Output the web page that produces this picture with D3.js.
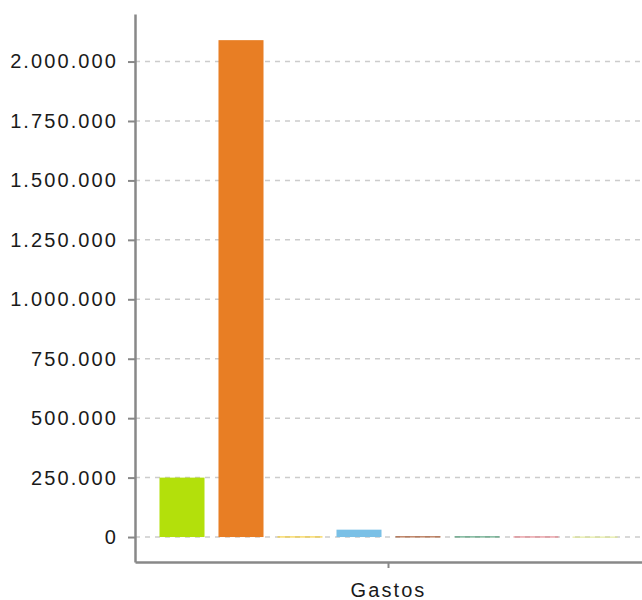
<!DOCTYPE html>
<html lang="es">
<head>
<meta charset="UTF-8">
<title>Gastos</title>
<style>
    body { margin: 0; background: #fff; }
    text { font-family: "Liberation Sans", Arial, sans-serif; fill: #1a1a1a; }
</style>
</head>
<body>
<script src="https://d3js.org/d3.v7.min.js"></script>
<script>
    // data
    let categories = ["Gastos"];
    let series = ["s1", "s2", "s3", "s4", "s5", "s6", "s7", "s8"];
    let values = [250000, 2090000, 2500, 31000, 2800, 2600, 2400, 1800];
    let colors = ["#b3e00b", "#e87e24", "#f6c81e", "#7ac0e6", "#a0461a", "#3a9268", "#e0727c", "#dde68a"];
    let yTicks = [0, 250000, 500000, 750000, 1000000, 1250000, 1500000, 1750000, 2000000];

    let m = { t: 14, b: 38, l: 135, r: 0 };
    let W = 642, H = 600;
    let w = W - m.l - m.r;
    let h = H - m.t - m.b;

    let fmt = d3.formatLocale({ decimal: ",", thousands: ".", grouping: [3], currency: ["", "€"] }).format(",.0f");

    let svg = d3.select('body').append('svg')
        .attr('width', W)
        .attr('height', H);

    let g = svg.append('g').attr('transform', `translate(${m.l},${m.t})`);

    let x0 = d3.scaleBand().domain(categories).range([0, w]);
    let x1 = d3.scaleBand().domain(series).range([0, x0.bandwidth()])
        .paddingInner(0.237).paddingOuter(0.415);
    let y = d3.scaleLinear().domain([-105000, 2200000]).range([h, 0]);

    // grid
    g.selectAll('.grid')
        .data(yTicks)
        .enter().append('line')
        .attr('class', 'grid')
        .attr('x1', 0).attr('x2', w)
        .attr('y1', d => y(d)).attr('y2', d => y(d))
        .attr('stroke', '#cccccc')
        .attr('stroke-width', 1.5)
        .attr('stroke-dasharray', '5,5');

    // bars
    let grp = g.selectAll('.grp')
        .data(categories)
        .enter().append('g')
        .attr('transform', d => `translate(${x0(d)},0)`);

    grp.selectAll('rect')
        .data(series.map((s, i) => ({ s: s, v: values[i], c: colors[i] })))
        .enter().append('rect')
        .attr('x', d => x1(d.s))
        .attr('width', x1.bandwidth())
        .attr('y', d => y(d.v))
        .attr('height', d => Math.max(1, y(0) - y(d.v)))
        .attr('fill', d => d.c);

    // y axis
    let ya = g.append('g')
        .call(d3.axisLeft(y).tickValues(yTicks).tickFormat(fmt)
            .tickSize(7).tickSizeOuter(0).tickPadding(10));
    ya.select('.domain').attr('stroke', '#888').attr('stroke-width', 2.5);
    ya.selectAll('.tick line').attr('stroke', '#888').attr('stroke-width', 2);
    ya.selectAll('.tick text')
        .attr('font-size', 20)
        .attr('letter-spacing', 2.1)
        .attr('font-family', '"Liberation Sans", Arial, sans-serif')
        .attr('fill', '#1a1a1a');

    // x axis
    let xa = g.append('g')
        .attr('transform', `translate(0,${h})`)
        .call(d3.axisBottom(x0).tickSize(6).tickSizeOuter(0).tickPadding(15));
    xa.select('.domain').attr('stroke', '#888').attr('stroke-width', 2.5);
    xa.selectAll('.tick line').attr('stroke', '#888').attr('stroke-width', 2);
    xa.selectAll('.tick text')
        .attr('font-size', 20)
        .attr('letter-spacing', 2.1)
        .attr('font-family', '"Liberation Sans", Arial, sans-serif')
        .attr('fill', '#1a1a1a');
</script>
</body>
</html>
